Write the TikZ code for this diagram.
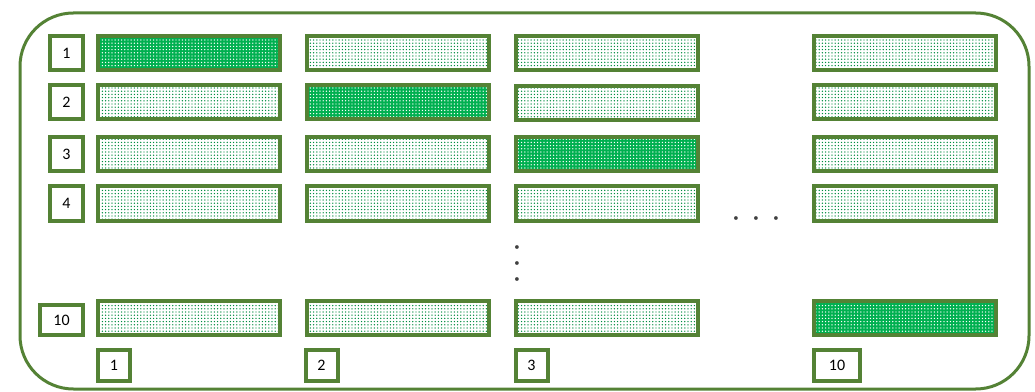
\documentclass[tikz,border=0pt]{standalone}
\usepackage{fontspec}
\setmainfont{Carlito}
\usepackage{tikz}
\usetikzlibrary{patterns.meta}
\definecolor{matEdge}{HTML}{548235}
\definecolor{matFill}{HTML}{00B050}
\definecolor{matDot}{HTML}{404040}
\tikzset{
  matbar/.style={rectangle,draw=matEdge,line width=3pt,minimum width=136.5pt,
                 minimum height=25.5pt,inner sep=0pt,
                 preaction={fill=white},
                 pattern={Dots[distance=2.4pt,radius=0.55pt]},pattern color=matFill!80!black},
  matpick/.style={matbar,preaction={fill=matFill},pattern color=white},
  matidx/.style={rectangle,draw=matEdge,line width=3pt,fill=white,inner sep=0pt,
                 minimum width=24.75pt,minimum height=25.5pt,
                 font=\fontsize{12}{14}\selectfont},
  matcol/.style={matidx,minimum width=24pt,minimum height=23.25pt},
  matdots/.style={text=matDot,font=\fontsize{8}{9}\selectfont,inner sep=0pt}
}
\begin{document}
\begin{tikzpicture}[x=0.75pt,y=-0.75pt]
    \useasboundingbox (0,0) rectangle (1035,392);
    \draw[matEdge,line width=2.25pt,rounded corners=40pt] (20,13) rectangle (1029,389);

    % row numbers
    \node[matidx] (r1) at (66.5,53) {1};
    \node[matidx] (r2) at (66.5,102.5) {2};
    \node[matidx] (r3) at (66.5,154) {3};
    \node[matidx] (r4) at (66.5,203.5) {4};
    \node[matidx,minimum width=32.25pt,minimum height=23pt] (r10) at (61.5,320) {10};

    % bars
    \node[matpick] (b11) at (189,53) {};
    \node[matbar] (b12) at (398,53) {};
    \node[matbar] (b13) at (606.5,53) {};
    \node[matbar] (b110) at (904.5,53) {};

    \node[matbar] (b21) at (189,102.5) {};
    \node[matpick] (b22) at (398,102.5) {};
    \node[matbar] (b23) at (606.5,103.5) {};
    \node[matbar] (b210) at (904.5,102.5) {};

    \node[matbar] (b31) at (189,154.5) {};
    \node[matbar] (b32) at (398,154.5) {};
    \node[matpick] (b33) at (606.5,154.5) {};
    \node[matbar] (b310) at (904.5,154.5) {};

    \node[matbar] (b41) at (189,203.5) {};
    \node[matbar] (b42) at (398,203.5) {};
    \node[matbar] (b43) at (606.5,203.5) {};
    \node[matbar] (b410) at (904.5,203.5) {};

    \node[matbar] (b101) at (189,318) {};
    \node[matbar] (b102) at (398,318) {};
    \node[matbar] (b103) at (606.5,318) {};
    \node[matpick] (b1010) at (904.5,318) {};

    % column numbers
    \node[matcol] (c1) at (114,365.5) {1};
    \node[matcol] (c2) at (321.5,365.5) {2};
    \node[matcol] (c3) at (531.5,365.5) {3};
    \node[matcol,minimum width=34.5pt] (c10) at (837,365.5) {10};

    % gaps
    \node[matdots] (hdots) at (756,219) {\textbullet\hspace{11pt}\textbullet\hspace{11pt}\textbullet};
    \node[matdots] (vd1) at (517,248) {\textbullet};
    \node[matdots] (vd2) at (517,264) {\textbullet};
    \node[matdots] (vd3) at (517,280) {\textbullet};
\end{tikzpicture}
\end{document}
